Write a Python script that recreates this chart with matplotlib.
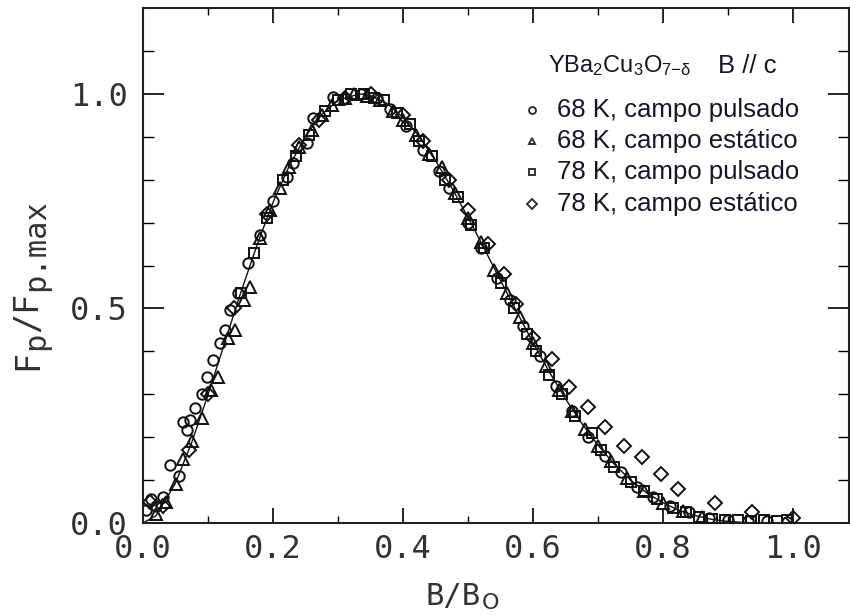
import matplotlib
matplotlib.use("Agg")
import matplotlib.pyplot as plt

plt.rcParams['mathtext.fontset'] = 'custom'
plt.rcParams['mathtext.rm'] = 'Liberation Sans'
plt.rcParams['mathtext.it'] = 'Liberation Sans:italic'

# Fit curve
curve_x = [0.0, 0.02, 0.05, 0.075, 0.1, 0.125, 0.15, 0.175, 0.2, 0.225, 0.25, 0.275, 0.3,
           0.333, 0.35, 0.375, 0.4, 0.425, 0.45, 0.475, 0.5, 0.525, 0.55, 0.575, 0.6, 0.625,
           0.65, 0.675, 0.7, 0.725, 0.75, 0.775, 0.8, 0.825, 0.85, 0.875, 0.9, 0.925, 0.95,
           1.0, 1.1]
curve_y = [0.0, 0.017, 0.093, 0.188, 0.299, 0.417, 0.535, 0.646, 0.747, 0.832, 0.901, 0.952,
           0.985, 1.0, 0.996, 0.978, 0.945, 0.900, 0.844, 0.781, 0.712, 0.639, 0.565, 0.492,
           0.420, 0.352, 0.289, 0.232, 0.181, 0.137, 0.100, 0.070, 0.047, 0.029, 0.017, 0.0085,
           0.0037, 0.0011, 0.0003, 0.0, 0.0]

# 68 K, campo pulsado (circles)
c68p_x = [0.005, 0.012, 0.02, 0.03, 0.042, 0.055, 0.062, 0.067, 0.072, 0.08, 0.09, 0.098,
          0.108, 0.118, 0.126, 0.134, 0.146, 0.162, 0.18, 0.2, 0.221, 0.231, 0.252, 0.262,
          0.292, 0.31, 0.335, 0.36, 0.38, 0.405, 0.43, 0.455, 0.47, 0.5, 0.52, 0.545, 0.565,
          0.585, 0.61, 0.635, 0.66, 0.685, 0.71, 0.735, 0.76, 0.785, 0.81, 0.84, 0.87, 0.9,
          0.93, 0.96, 0.99]
c68p_y = [0.03, 0.055, 0.04, 0.06, 0.135, 0.11, 0.235, 0.217, 0.24, 0.268, 0.30, 0.34,
          0.38, 0.42, 0.45, 0.497, 0.535, 0.605, 0.67, 0.75, 0.807, 0.839, 0.886, 0.944,
          0.993, 0.99, 1.0, 0.99, 0.965, 0.925, 0.87, 0.82, 0.78, 0.70, 0.64, 0.57, 0.52,
          0.46, 0.39, 0.32, 0.26, 0.20, 0.155, 0.12, 0.085, 0.06, 0.04, 0.025, 0.012, 0.008,
          0.005, 0.004, 0.003]

# 68 K, campo estático (triangles)
c68s_x = [0.02, 0.035, 0.05, 0.062, 0.075, 0.09, 0.105, 0.116, 0.13, 0.142, 0.155, 0.165,
          0.18, 0.195, 0.21, 0.225, 0.24, 0.26, 0.275, 0.29, 0.31, 0.325, 0.345, 0.365,
          0.385, 0.4, 0.42, 0.44, 0.46, 0.48, 0.5, 0.52, 0.54, 0.56, 0.58, 0.6, 0.62, 0.64,
          0.66, 0.68, 0.7, 0.72, 0.745, 0.77, 0.8, 0.83, 0.86]
c68s_y = [0.02, 0.05, 0.09, 0.15, 0.19, 0.245, 0.31, 0.34, 0.43, 0.45, 0.52, 0.55,
          0.665, 0.73, 0.78, 0.83, 0.875, 0.915, 0.95, 0.975, 0.99, 1.0, 0.995, 0.985,
          0.96, 0.94, 0.905, 0.86, 0.83, 0.77, 0.71, 0.655, 0.59, 0.535, 0.48, 0.42, 0.365,
          0.31, 0.26, 0.22, 0.18, 0.145, 0.105, 0.075, 0.047, 0.027, 0.013]

# 78 K, campo pulsado (squares)
c78p_x = [0.15, 0.17, 0.19, 0.215, 0.235, 0.255, 0.28, 0.3, 0.32, 0.34, 0.355, 0.37, 0.39,
          0.41, 0.425, 0.445, 0.465, 0.485, 0.505, 0.525, 0.55, 0.57, 0.59, 0.605, 0.625,
          0.645, 0.665, 0.69, 0.705, 0.725, 0.75, 0.77, 0.79, 0.815, 0.835, 0.855, 0.875,
          0.895, 0.915, 0.935, 0.955, 0.975, 0.99]
c78p_y = [0.535, 0.63, 0.71, 0.80, 0.855, 0.905, 0.96, 0.985, 1.0, 1.0, 0.99, 0.985, 0.955,
          0.93, 0.89, 0.855, 0.80, 0.76, 0.695, 0.64, 0.56, 0.50, 0.44, 0.40, 0.345,
          0.30, 0.25, 0.21, 0.17, 0.13, 0.095, 0.075, 0.055, 0.035, 0.025, 0.015, 0.01,
          0.008, 0.006, 0.005, 0.006, 0.005, 0.008]

# 78 K, campo estático (diamonds)
c78s_x = [0.01, 0.03, 0.07, 0.1, 0.14, 0.19, 0.24, 0.27, 0.31, 0.35, 0.4, 0.43, 0.47, 0.5,
          0.53, 0.555, 0.574, 0.6, 0.629, 0.656, 0.684, 0.711, 0.74, 0.768, 0.797, 0.823,
          0.88, 0.937, 1.0]
c78s_y = [0.05, 0.04, 0.17, 0.30, 0.50, 0.72, 0.88, 0.94, 0.99, 1.0, 0.95, 0.89, 0.80, 0.73,
          0.65, 0.58, 0.51, 0.43, 0.382, 0.317, 0.27, 0.224, 0.18, 0.154, 0.114, 0.079,
          0.047, 0.026, 0.012]

x_ticks = [0.0, 0.2, 0.4, 0.6, 0.8, 1.0]
x_ticklabels = ['0.0', '0.2', '0.4', '0.6', '0.8', '1.0']
x_minor = [0.1, 0.3, 0.5, 0.7, 0.9]
y_ticks = [0.0, 0.5, 1.0]
y_ticklabels = ['0.0', '0.5', '1.0']
y_minor = [0.1, 0.2, 0.3, 0.4, 0.6, 0.7, 0.8, 0.9, 1.1]

legend_labels = ["68 K, campo pulsado", "68 K, campo estático",
                 "78 K, campo pulsado", "78 K, campo estático"]
markers = ['o', '^', 's', 'D']

W, H = 850, 616
fig = plt.figure(figsize=(8.5, 6.16), dpi=100)
ax = fig.add_axes([143/W, 1-523/H, (849-143)/W, (523-8)/H])

ink = '#111111'
ax.plot(curve_x, curve_y, color=ink, lw=1.0, zorder=2)
series = [(c68p_x, c68p_y), (c68s_x, c68s_y), (c78p_x, c78p_y), (c78s_x, c78s_y)]
sizes = [7.5, 8, 7, 7]
for (xs, ys), m, s in zip(series, markers, sizes):
    ax.plot(xs, ys, linestyle='none', marker=m, markersize=s, markerfacecolor='none',
            markeredgecolor=ink, markeredgewidth=1.4, zorder=3)

mono = 'DejaVu Sans Mono'
grey = '#333333'
ax.set_xlim(0, 1.086)
ax.set_ylim(0, 1.2)
ax.set_xticks(x_ticks, x_ticklabels, family=mono)
ax.set_xticks(x_minor, minor=True)
ax.set_yticks(y_ticks, y_ticklabels, family=mono)
ax.set_yticks(y_minor, minor=True)
ax.tick_params(axis='x', which='major', direction='in', length=11, width=1.2,
               top=True, bottom=True, pad=8, labelsize=23, labelcolor=grey)
ax.tick_params(axis='x', which='minor', direction='in', length=5, width=1.0,
               top=True, bottom=True)
ax.tick_params(axis='y', which='major', direction='in', length=15, width=1.2,
               left=True, right=True, pad=11, labelsize=23, labelcolor=grey)
ax.tick_params(axis='y', which='minor', direction='in', length=8, width=1.0,
               left=True, right=True)
for sp in ax.spines.values():
    sp.set_linewidth(1.5)
    sp.set_color('#222222')

def px(x, y):
    return x / W, 1 - y / H

# x label: B/B with subscript O
fig.text(*px(425, 605), 'B/B', ha='left', va='baseline', fontsize=22,
         family=mono, color=grey)
fig.text(*px(482, 609), 'O', ha='left', va='baseline', fontsize=16,
         family='DejaVu Sans', color=grey)

# y label: F_p/F_p.max (rotated), subscripts nearly full size
ys_size = 24
adv = 0.602 * ys_size * 100 / 72
pieces = [('F', 0), ('p', 1), ('/F', 0), ('p.max', 1)]
ypos = 370
for txt, sub in pieces:
    xb = 37 + (7 if sub else 0)
    fig.text(*px(xb, ypos), txt, rotation=90, rotation_mode='anchor',
             ha='left', va='baseline', fontsize=ys_size if not sub else ys_size - 2,
             family=mono, color=grey)
    ypos -= adv * len(txt) * (1 if not sub else (ys_size - 2) / ys_size)

navy = '#16162a'
fig.text(*px(548, 66), r'YBa$_2$Cu$_3$O$_{7\mathrm{-δ}}$', ha='left', va='center',
         fontsize=17, family='Liberation Sans', color=navy)
fig.text(*px(718, 66), 'B // c', ha='left', va='center',
         fontsize=18.5, family='Liberation Sans', color=navy)
rows = [110, 141, 172, 204]
for lab, m, yy in zip(legend_labels, markers, rows):
    fig.lines.append(plt.Line2D([532/W], [1-yy/H], transform=fig.transFigure,
                                marker=m, markersize=5, markerfacecolor='none',
                                markeredgecolor=grey, markeredgewidth=1.4,
                                linestyle='none'))
    fig.text(*px(557, yy), lab, ha='left', va='center', fontsize=18.5,
             family='Liberation Sans', color=navy)

fig.savefig('out.png', dpi=100)
